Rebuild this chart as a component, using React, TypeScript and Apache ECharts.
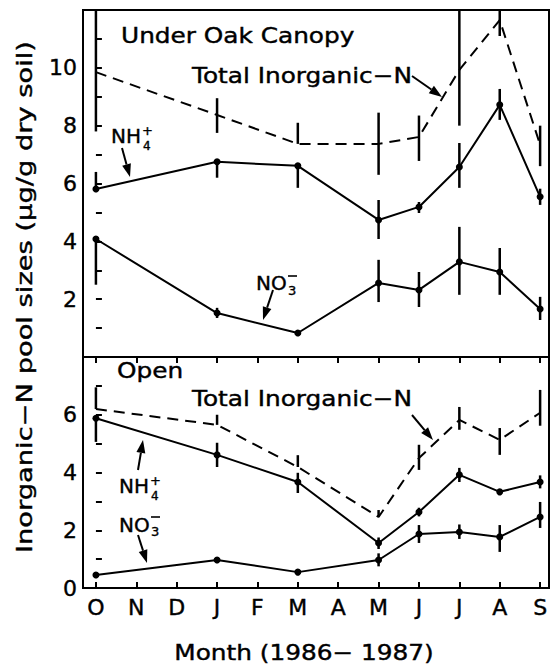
import React, { useEffect, useRef } from "react";
import * as echarts from "echarts";

// ---------- data ----------
const monthLabels = ["O", "N", "D", "J", "F", "M", "A", "M", "J", "J", "A", "S"];
const sampleMonths = [0, 3, 5, 7, 8, 9, 10, 11];

// Under Oak Canopy
const oakTotal = [9.85, 8.37, 7.37, 7.37, 7.61, 9.93, 11.65, 7.34];
const oakTotalLow = [7.8, 7.75, 7.37, 6.3, 6.78, 8.0, 11.1, 6.6];
const oakTotalHigh = [12, 8.95, 8.1, 8.45, 8.35, 12, 12, 8.0];
const oakNH4 = [5.81, 6.75, 6.61, 4.74, 5.19, 6.57, 8.72, 5.54];
const oakNH4Low = [5.81, 6.2, 5.85, 4.08, 4.98, 5.85, 8.2, 5.26];
const oakNH4High = [6.4, 6.75, 6.61, 5.43, 5.36, 7.4, 9.27, 5.82];
const oakNO3 = [4.08, 1.52, 0.83, 2.56, 2.32, 3.29, 2.94, 1.66];
const oakNO3Low = [2.5, 1.35, 0.75, 1.9, 1.73, 2.15, 2.15, 1.28];
const oakNO3High = [4.08, 1.7, 0.9, 3.36, 2.94, 4.5, 3.77, 2.08];

// Open
const openTotal = [6.2, 5.65, 4.19, 2.46, 4.5, 5.82, 5.13, 6.07];
const openTotalLow = [6.2, 5.65, 4.19, 2.46, 4.09, 5.48, 4.61, 5.62];
const openTotalHigh = [6.95, 6.0, 4.6, 2.7, 4.96, 6.27, 5.54, 6.86];
const openNH4 = [5.88, 4.61, 3.67, 1.56, 2.63, 3.92, 3.33, 3.67];
const openNH4Low = [5.06, 4.19, 3.29, 1.35, 2.48, 3.67, 3.25, 3.45];
const openNH4High = [5.88, 5.03, 3.99, 1.75, 2.78, 4.16, 3.41, 3.9];
const openNO3 = [0.45, 0.97, 0.55, 0.97, 1.87, 1.94, 1.77, 2.46];
const openNO3Low = [0.4, 0.92, 0.5, 0.75, 1.56, 1.7, 1.25, 2.08];
const openNO3High = [0.5, 1.02, 0.6, 1.2, 2.18, 2.2, 2.18, 2.98];

const topTicks = [0, 2, 4, 6, 8, 10, 12];
const bottomTicks = [0, 2, 4, 6, 8];

// ---------- helpers ----------
const FONT = "DejaVu Sans";
const pts = (vals: number[]) => sampleMonths.map((m, i) => [m, vals[i]]);
const bars = (lo: number[], hi: number[]) => sampleMonths.map((m, i) => [m, lo[i], hi[i]]);

function lineSeries(data: number[], axis: number, dashed: boolean) {
  return {
    type: "line",
    xAxisIndex: axis,
    yAxisIndex: axis,
    data: pts(data),
    symbol: dashed ? "none" : "circle",
    symbolSize: 7,
    itemStyle: { color: "#000" },
    lineStyle: { color: "#000", width: 2, type: dashed ? [11, 7] : "solid" },
    z: 3,
  };
}

function errSeries(lo: number[], hi: number[], axis: number) {
  return {
    type: "custom",
    xAxisIndex: axis,
    yAxisIndex: axis,
    data: bars(lo, hi),
    renderItem: (params: any, api: any) => {
      const a = api.coord([api.value(0), api.value(1)]);
      const b = api.coord([api.value(0), api.value(2)]);
      return {
        type: "line",
        shape: { x1: a[0], y1: a[1], x2: b[0], y2: b[1] },
        style: { stroke: "#000", lineWidth: 2.5 },
      };
    },
    z: 4,
  };
}

function arrow(x1: number, y1: number, x2: number, y2: number, head = 13, w = 4.5) {
  const dx = x2 - x1;
  const dy = y2 - y1;
  const L = Math.hypot(dx, dy);
  const ux = dx / L;
  const uy = dy / L;
  const bx = x2 - ux * head;
  const by = y2 - uy * head;
  const px = -uy;
  const py = ux;
  return [
    { type: "line", shape: { x1, y1, x2: bx, y2: by }, style: { stroke: "#000", lineWidth: 2 } },
    {
      type: "polygon",
      shape: { points: [[x2, y2], [bx + px * w, by + py * w], [bx - px * w, by - py * w]] },
      style: { fill: "#000" },
    },
  ];
}

function txt(text: string, x: number, y: number, size: number, scaleX = 1, align = "left", rotation = 0) {
  return {
    type: "text",
    x,
    y,
    scaleX,
    rotation,
    style: {
      text,
      fontSize: size,
      fontFamily: FONT,
      fill: "#000",
      stroke: "#000",
      lineWidth: 0.4,
      textAlign: align,
      textVerticalAlign: "middle",
      lineHeight: size,
    },
    z: 10,
  };
}

function overline(x1: number, x2: number, y: number) {
  return { type: "line", shape: { x1, y1: y, x2, y2: y }, style: { stroke: "#000", lineWidth: 1.6 }, z: 10 };
}

const monthIdx = monthLabels.map((_, i) => i);

function xAxisCfg(grid: number, bottom: boolean) {
  return {
    type: "value",
    gridIndex: grid,
    position: bottom ? "bottom" : "top",
    min: -0.32,
    max: 11.22,
    axisLine: { show: false },
    splitLine: { show: false },
    axisTick: {
      show: true,
      inside: true,
      length: 6,
      customValues: monthIdx,
      lineStyle: { color: "#000", width: 2 },
    },
    axisLabel: bottom
      ? {
          show: true,
          customValues: monthIdx,
          formatter: (v: number) => monthLabels[Math.round(v)] ?? "",
          margin: 8,
          fontSize: 22,
          fontFamily: FONT,
          color: "#000",
          textBorderColor: "#000",
          textBorderWidth: 0.4,
        }
      : { show: false },
  };
}

function yAxisCfg(grid: number, ticks: number[]) {
  const max = ticks[ticks.length - 1];
  return {
    type: "value",
    gridIndex: grid,
    min: ticks[0],
    max,
    interval: ticks[1] - ticks[0],
    axisLine: { show: false },
    splitLine: { show: false },
    axisTick: { show: true, inside: true, length: 6, lineStyle: { color: "#000", width: 2 } },
    minorTick: { show: true, splitNumber: 2, length: 6, lineStyle: { color: "#000", width: 2 } },
    axisLabel: {
      margin: 6,
      fontSize: 22,
      fontFamily: FONT,
      color: "#000",
      textBorderColor: "#000",
      textBorderWidth: 0.4,
      formatter: (v: number) => (v === max || (grid === 0 && v === 0) ? "" : String(v)),
    },
  };
}

export default function App() {
  const ref = useRef<HTMLDivElement>(null);
  useEffect(() => {
    if (!ref.current) return;
    const chart = echarts.init(ref.current, undefined, { renderer: "svg" });
    const option: any = {
      animation: false,
      backgroundColor: "#fff",
      grid: [
        { left: 83, top: 10, width: 466, height: 347, show: true, borderColor: "#000", borderWidth: 2, backgroundColor: "transparent" },
        { left: 83, top: 357, width: 466, height: 231, show: true, borderColor: "#000", borderWidth: 2, backgroundColor: "transparent" },
      ],
      xAxis: [xAxisCfg(0, false), xAxisCfg(1, true)],
      yAxis: [yAxisCfg(0, topTicks), yAxisCfg(1, bottomTicks)],
      series: [
        lineSeries(oakTotal, 0, true),
        lineSeries(oakNH4, 0, false),
        lineSeries(oakNO3, 0, false),
        errSeries(oakTotalLow, oakTotalHigh, 0),
        errSeries(oakNH4Low, oakNH4High, 0),
        errSeries(oakNO3Low, oakNO3High, 0),
        lineSeries(openTotal, 1, true),
        lineSeries(openNH4, 1, false),
        lineSeries(openNO3, 1, false),
        errSeries(openTotalLow, openTotalHigh, 1),
        errSeries(openNH4Low, openNH4High, 1),
        errSeries(openNO3Low, openNO3High, 1),
      ],
      graphic: [
        txt("Inorganic\u2212N pool sizes (\u03bcg/g dry soil)", 25, 297, 21, 1.3, "center", Math.PI / 2),
        txt("Month (1986\u2212 1987)", 304, 653, 21, 1.18, "center"),
        txt("Under Oak Canopy", 121, 36, 21, 1.18),
        txt("Total Inorganic\u2212N", 192, 76, 21, 1.18),
        txt("Open", 117, 371, 21, 1.18),
        txt("Total Inorganic\u2212N", 192, 399, 21, 1.18),
        // NH4+ top
        txt("NH", 111, 136, 20),
        txt("+", 142, 130, 13),
        txt("4", 143, 146, 12),
        // NO3- top
        txt("NO", 256, 283, 20),
        txt("3", 288, 290, 13),
        overline(288, 297, 276),
        // NH4+ bottom
        txt("NH", 119, 486, 20),
        txt("+", 150, 480, 13),
        txt("4", 151, 496, 12),
        // NO3- bottom
        txt("NO", 119, 525, 20),
        txt("3", 151, 531, 13),
        overline(151, 160, 517),
        ...arrow(412, 76, 442, 97),
        ...arrow(122, 148, 130, 177),
        ...arrow(273, 290, 263, 320),
        ...arrow(412, 415, 433, 440),
        ...arrow(138, 470, 143, 440),
        ...arrow(138, 535, 147, 563),
      ],
    };
    chart.setOption(option);
    return () => chart.dispose();
  }, []);
  return <div ref={ref} style={{ width: 553, height: 667, position: "absolute", left: 0, top: 0 }} />;
}
